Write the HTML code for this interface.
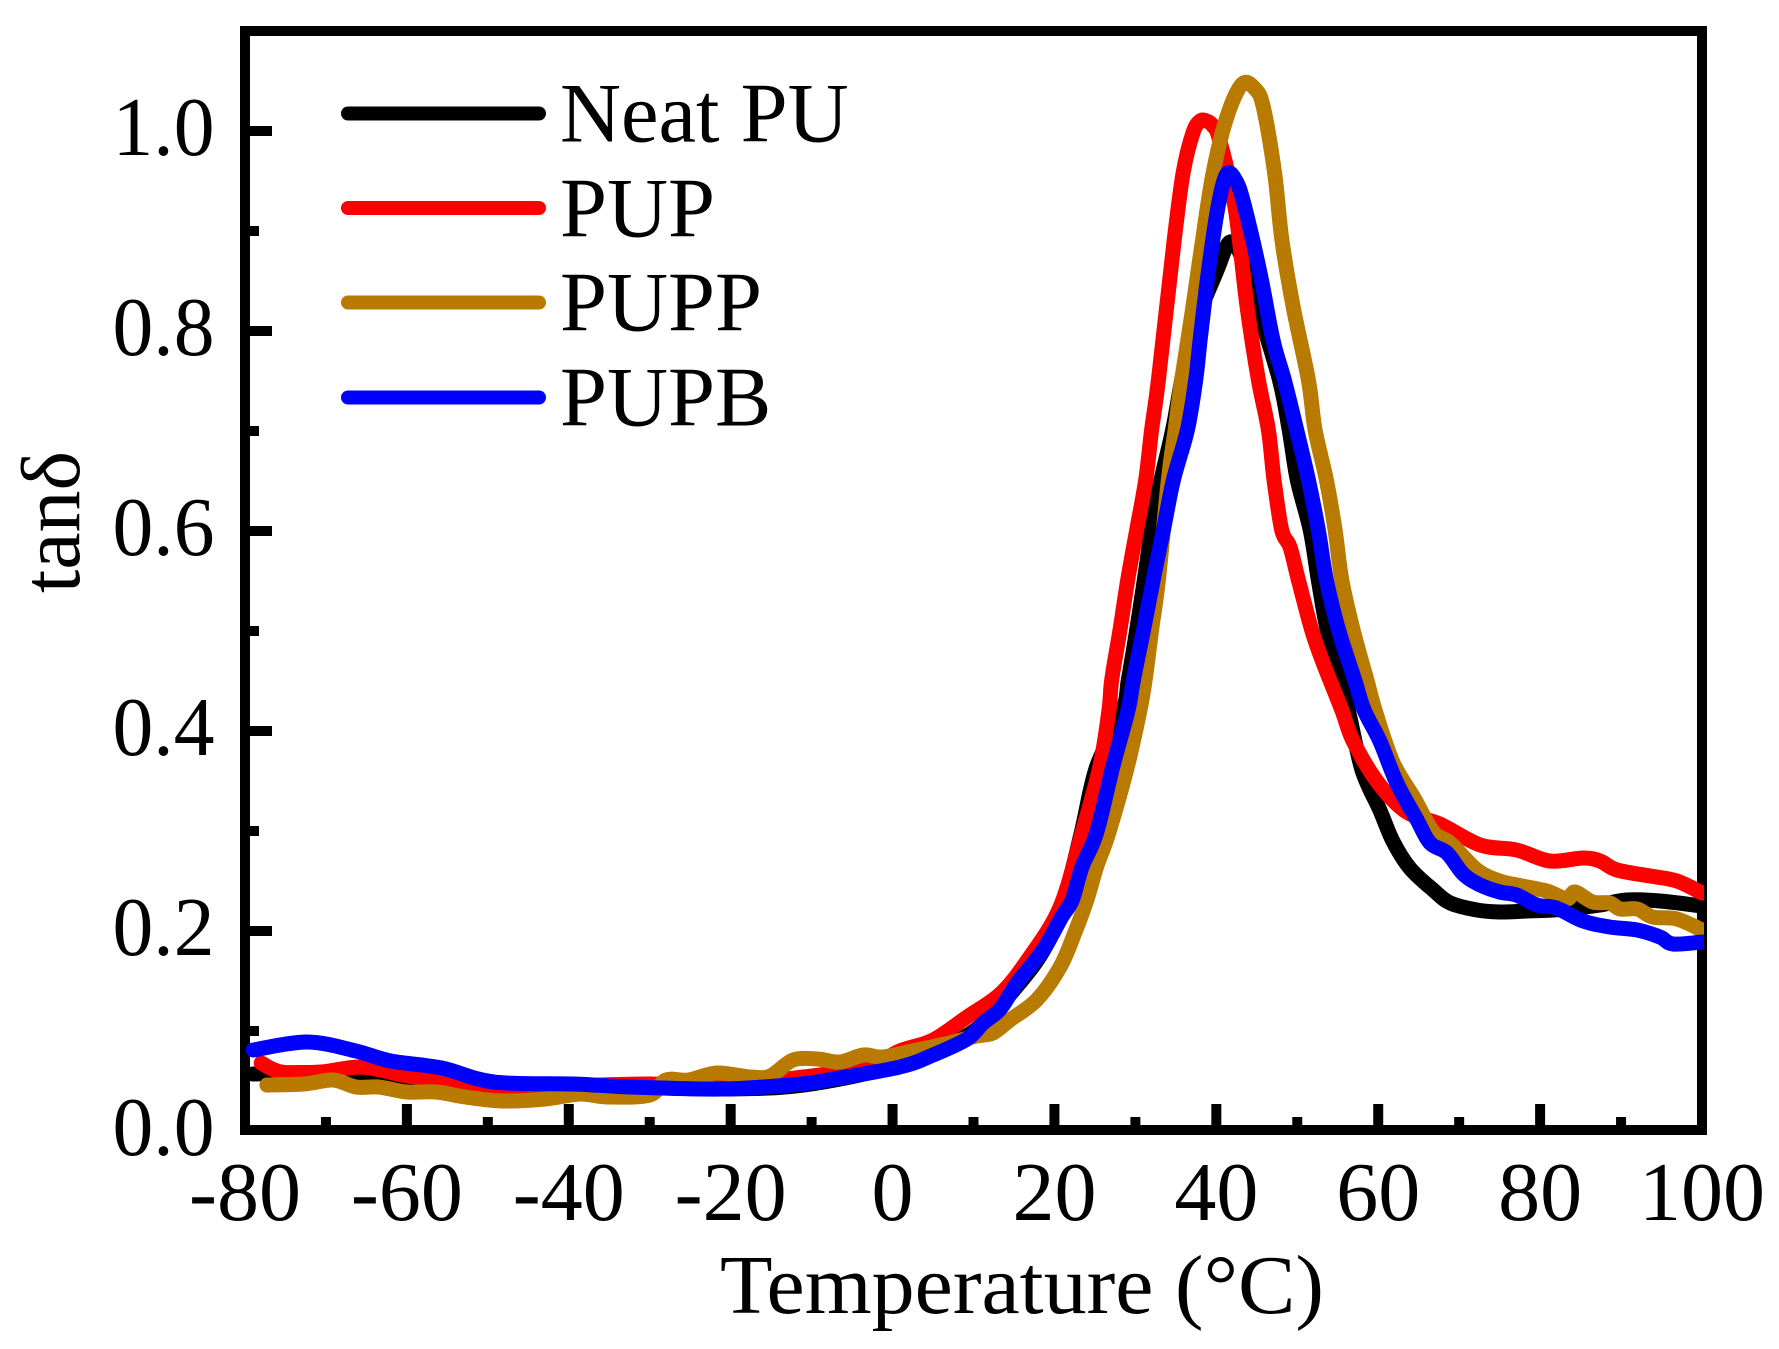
<!DOCTYPE html>
<html lang="en">
<head>
<meta charset="utf-8">
<title>tanδ versus temperature</title>
<style>
html,body{margin:0;padding:0;background:#fff;}
svg{display:block;}
text{font-family:"Liberation Serif","DejaVu Serif",serif;font-size:84px;fill:#000;}
.legend-text{font-size:84.5px;}
</style>
</head>
<body>
<svg id="chart" xmlns="http://www.w3.org/2000/svg" width="1779" height="1349" viewBox="0 0 1779 1349">
  <defs>
    <clipPath id="plot-clip"><rect x="230" y="20" width="1474" height="1120"/></clipPath>
    <clipPath id="tick-clip"><rect x="240" y="26" width="1467" height="1109"/></clipPath>
  </defs>
  <rect x="0" y="0" width="1779" height="1349" fill="#fff"/>
  <g id="ticks" clip-path="url(#tick-clip)"></g>
  <rect x="245" y="31" width="1457" height="1099" fill="none" stroke="#000" stroke-width="10"/>
  <g id="series" clip-path="url(#plot-clip)"></g>
  <g id="tick-labels"></g>
  <text x="1022" y="1313" text-anchor="middle" textLength="604" lengthAdjust="spacingAndGlyphs">Temperature (°C)</text>
  <text x="0" y="0" text-anchor="middle" transform="translate(79 522) rotate(-90)">tanδ</text>
  <g>
    <g>
      <line x1="348" y1="113.5" x2="539" y2="113.5" stroke="#000" stroke-width="14" stroke-linecap="round"/>
      <text class="legend-text" x="560" y="141.5">Neat PU</text>
    </g>
    <g>
      <line x1="348" y1="208" x2="539" y2="208" stroke="#ff0000" stroke-width="14" stroke-linecap="round"/>
      <text class="legend-text" x="560" y="236.5">PUP</text>
    </g>
    <g>
      <line x1="348" y1="302.5" x2="539" y2="302.5" stroke="#b87a00" stroke-width="14" stroke-linecap="round"/>
      <text class="legend-text" x="560" y="330.5">PUPP</text>
    </g>
    <g>
      <line x1="348" y1="397.5" x2="539" y2="397.5" stroke="#0000ff" stroke-width="14" stroke-linecap="round"/>
      <text class="legend-text" x="560" y="425.5">PUPB</text>
    </g>
  </g>
</svg>
<script>
const xMajorTicks = [-80,-60,-40,-20,0,20,40,60,80,100];
const xMinorTicks = [-70,-50,-30,-10,10,30,50,70,90];
const yMajorTicks = [0,0.2,0.4,0.6,0.8,1.0];
const yMinorTicks = [0.1,0.3,0.5,0.7,0.9];
const yTickLabels = ["0.0","0.2","0.4","0.6","0.8","1.0"];

const neatPuTemps = [-79,-71,-65,-60,-55,-49,-40,-32,-21,-11,0.3,5,7.5,11,15.4,18.6,20.9,23.3,25.2,28.43,29.13,30.16,31.1,32,33.17,34.6,35.72,36.6,38,40.1,41,41.7,42.5,43.5,45.1,47.8,49,50,51.6,52.6,53.7,55.3,56.3,58,60.2,61.8,63.9,66.8,68.9,72.2,75,78.4,81.6,84.5,87.4,90.7,94.8,100];
const neatPuValues = [0.057,0.058,0.05,0.05,0.048,0.046,0.046,0.044,0.042,0.046,0.064,0.078,0.088,0.106,0.145,0.18,0.222,0.298,0.364,0.421,0.451,0.501,0.551,0.601,0.651,0.701,0.751,0.784,0.82,0.861,0.88,0.889,0.885,0.865,0.824,0.751,0.701,0.651,0.601,0.551,0.501,0.451,0.421,0.361,0.321,0.29,0.263,0.241,0.228,0.221,0.219,0.22,0.221,0.223,0.226,0.231,0.23,0.225];

const pupTemps = [-78,-75.5,-70.6,-65.6,-60.6,-56.4,-48.6,-40,-30,-22,-11,-3.2,0.9,5,9.2,13.3,16.7,20.7,23.4,25.6,26.74,27.07,28.1,29.05,30.16,31.27,32,32.84,34.8,35.9,37.1,38,38.8,39.6,40.4,42.3,43.8,45.2,46.43,47.13,48.08,49.1,50.14,51.78,53.2,55.5,56.9,60,63.5,67.6,72.6,77.1,81.2,85.3,87.4,89.5,93.6,96.9,100];
const pupValues = [0.068,0.059,0.059,0.064,0.056,0.051,0.042,0.045,0.047,0.045,0.054,0.064,0.08,0.091,0.114,0.137,0.171,0.224,0.298,0.364,0.421,0.451,0.501,0.551,0.601,0.651,0.701,0.751,0.891,0.958,0.998,1.01,1.01,1.005,0.991,0.924,0.824,0.751,0.701,0.651,0.601,0.584,0.551,0.501,0.468,0.421,0.39,0.348,0.319,0.307,0.286,0.281,0.27,0.273,0.27,0.261,0.255,0.25,0.238];

const puppTemps = [-77.3,-72.7,-69.1,-66.3,-63.5,-60,-56.4,-52.8,-48.2,-42.9,-38.6,-35.2,-30,-28,-25.2,-21.7,-17.6,-15.1,-12.3,-9.3,-6.5,-3.6,-1.2,3,7,10.4,12.4,14.5,17.8,20.7,22.5,24,25.2,26.7,29,30.57,31.2,32,32.84,34.07,34.9,35.72,37.1,38.3,39.6,41.3,43.2,44.8,45.8,47.2,48.1,49.5,51.37,52.2,53.6,54.67,55.5,56.9,58.6,59.6,61.8,64.5,66.8,68.9,72.2,75,77.1,80.8,83.3,84.3,86.5,88.6,89.9,92,93.9,96.9,100];
const puppValues = [0.046,0.047,0.051,0.044,0.044,0.039,0.039,0.034,0.03,0.032,0.037,0.034,0.036,0.051,0.051,0.058,0.054,0.055,0.071,0.072,0.069,0.076,0.074,0.081,0.088,0.095,0.098,0.111,0.131,0.164,0.198,0.231,0.264,0.298,0.364,0.421,0.451,0.501,0.551,0.651,0.701,0.751,0.824,0.891,0.958,1.014,1.047,1.042,1.024,0.958,0.891,0.824,0.751,0.701,0.651,0.601,0.551,0.501,0.451,0.421,0.369,0.332,0.299,0.288,0.261,0.25,0.246,0.24,0.232,0.239,0.229,0.228,0.222,0.222,0.214,0.212,0.201];

const pupbTemps = [-79,-72.3,-66.3,-62,-55.7,-49.3,-39.4,-32.3,-21,-11.4,-7.3,0.9,5,9.2,11.2,13.3,15.4,18.6,20.9,22.2,23.4,25.2,27.2,29.1,29.75,31,32.2,33.46,34.7,36.42,37.45,38,39,40.2,41.3,42.5,43.5,45.4,47,48.4,49.93,51.37,52.6,53.6,55.1,57.1,58.25,60.2,62.3,64.8,66.4,68.5,70.5,72.6,75,77.1,79.6,82,85.3,88.6,92,94.8,96.4,100];
const pupbValues = [0.081,0.089,0.08,0.07,0.063,0.049,0.047,0.044,0.042,0.047,0.052,0.064,0.076,0.092,0.108,0.122,0.148,0.181,0.214,0.231,0.264,0.298,0.364,0.421,0.451,0.501,0.551,0.601,0.651,0.701,0.751,0.791,0.858,0.924,0.957,0.949,0.924,0.858,0.791,0.751,0.701,0.651,0.601,0.551,0.501,0.451,0.421,0.39,0.348,0.311,0.288,0.278,0.257,0.246,0.239,0.236,0.226,0.223,0.21,0.204,0.201,0.194,0.187,0.189];

const SVG_NS = "http://www.w3.org/2000/svg";
const xScale = t => 245 + (t + 80) * (1702 - 245) / 180;
const yScale = v => 1131 - v * 1000;

function make(tag, attrs, parent) {
  const el = document.createElementNS(SVG_NS, tag);
  for (const k in attrs) el.setAttribute(k, attrs[k]);
  parent.appendChild(el);
  return el;
}

const tickGroup = document.getElementById("ticks");
const labelGroup = document.getElementById("tick-labels");
const seriesGroup = document.getElementById("series");

xMajorTicks.forEach(t => {
  const tick = make("line", {x1: xScale(t), x2: xScale(t), y1: 1104, y2: 1130, stroke: "#000", "stroke-width": 10}, tickGroup);
  
  
  const label = make("text", {x: xScale(t), y: 1220, "text-anchor": "middle"}, labelGroup);
  label.textContent = String(t);
  
  
});
xMinorTicks.forEach(t => {
  const tick = make("line", {x1: xScale(t), x2: xScale(t), y1: 1117, y2: 1130, stroke: "#000", "stroke-width": 10}, tickGroup);
  
  
});
yMajorTicks.forEach((v, i) => {
  const tick = make("line", {x1: 245, x2: 272, y1: yScale(v), y2: yScale(v), stroke: "#000", "stroke-width": 10}, tickGroup);
  
  
  const label = make("text", {x: 214.5, y: yScale(v) + 24, "text-anchor": "end", textLength: 102, lengthAdjust: "spacingAndGlyphs"}, labelGroup);
  label.textContent = yTickLabels[i];
  
  
});
yMinorTicks.forEach(v => {
  const tick = make("line", {x1: 245, x2: 259, y1: yScale(v), y2: yScale(v), stroke: "#000", "stroke-width": 10}, tickGroup);
  
  
});

function smoothPath(temps, values) {
  const p = temps.map((t, i) => [xScale(t), yScale(values[i])]);
  let d = "M" + p[0][0].toFixed(1) + " " + p[0][1].toFixed(1);
  for (let i = 0; i < p.length - 1; i++) {
    const a = p[Math.max(i - 1, 0)], b = p[i], c = p[i + 1], e = p[Math.min(i + 2, p.length - 1)];
    const c1x = b[0] + (c[0] - a[0]) / 6, c1y = b[1] + (c[1] - a[1]) / 6;
    const c2x = c[0] - (e[0] - b[0]) / 6, c2y = c[1] - (e[1] - b[1]) / 6;
    d += "C" + c1x.toFixed(1) + " " + c1y.toFixed(1) + " " + c2x.toFixed(1) + " " + c2y.toFixed(1) + " " + c[0].toFixed(1) + " " + c[1].toFixed(1);
  }
  return d;
}

function drawSeries(temps, values, color) {
  return make("path", {d: smoothPath(temps, values), fill: "none", stroke: color, "stroke-width": 15, "stroke-linejoin": "round", "stroke-linecap": "round"}, seriesGroup);
}

const lineNeat = drawSeries(neatPuTemps, neatPuValues, "#000000");


const linePup = drawSeries(pupTemps, pupValues, "#ff0000");


const linePupp = drawSeries(puppTemps, puppValues, "#b87a00");


const linePupb = drawSeries(pupbTemps, pupbValues, "#0000ff");


</script>
</body>
</html>
